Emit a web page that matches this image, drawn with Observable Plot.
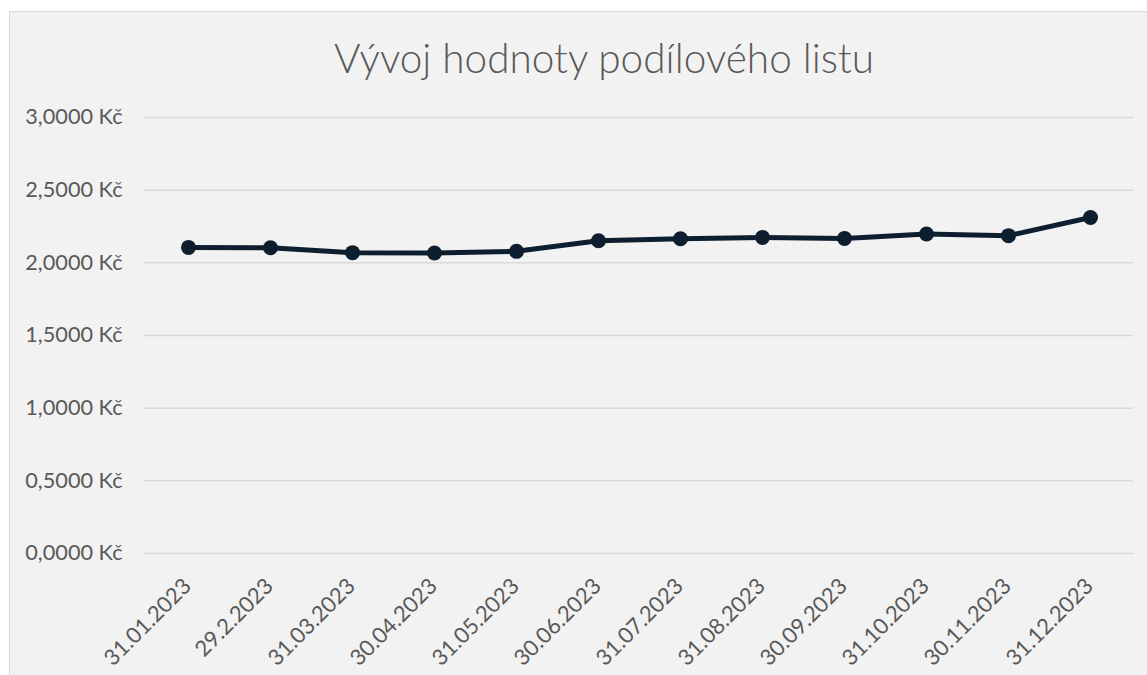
<!DOCTYPE html>
<html><head><meta charset="utf-8">
<script src="https://cdn.jsdelivr.net/npm/d3@7"></script>
<script src="https://cdn.jsdelivr.net/npm/@observablehq/plot@0.6"></script>
<style>
html,body{margin:0;padding:0;background:#fff;overflow:hidden;}
#wrap{position:relative;width:1147px;height:675px;overflow:hidden;}
#frame{position:absolute;left:9px;top:11px;width:1200px;height:700px;background:#f2f2f2;border:1.5px solid #d9d9d9;box-sizing:border-box;}
#title{position:absolute;left:9px;width:1190px;top:38px;text-align:center;font-family:Lato;font-weight:300;font-size:40.5px;line-height:40px;color:#595959;white-space:nowrap;}
#chart{position:absolute;left:0;top:0;}
</style></head>
<body><div id="wrap"><div id="frame"></div><div id="title">Vývoj hodnoty podílového listu</div><div id="chart"></div></div>
<script>
const dates = ["31.01.2023","29.2.2023","31.03.2023","30.04.2023","31.05.2023","30.06.2023","31.07.2023","31.08.2023","30.09.2023","31.10.2023","30.11.2023","31.12.2023"];
const values = [2.106, 2.104, 2.070, 2.068, 2.079, 2.152, 2.166, 2.175, 2.168, 2.198, 2.187, 2.312];
const yTicks = [0, 0.5, 1, 1.5, 2, 2.5, 3];
const data = dates.map((d, i) => ({date: d, value: values[i]}));
const fmt = v => v.toFixed(4).replace(".", ",") + " Kč";
const ink = "#0d1f2f";
const chart = Plot.plot({
  width: 1147, height: 675,
  marginLeft: 144, marginRight: 14, marginTop: 117, marginBottom: 122,
  style: {background: "transparent", fontFamily: "Lato", color: "#595959"},
  x: {type: "point", domain: dates, padding: 0.5, axis: null},
  y: {domain: [0, 3], axis: null},
  marks: [
    Plot.gridY(yTicks, {stroke: "#d9d9d9", strokeOpacity: 1, strokeWidth: 1.5}),
    Plot.axisY(yTicks, {tickSize: 0, tickPadding: 22, tickFormat: fmt, fontSize: 21.7, fill: "#595959", label: null}),
    Plot.text(dates, {x: d => d, frameAnchor: "bottom", rotate: -45, textAnchor: "end", lineAnchor: "middle", dx: -1, dy: 29, fontSize: 22, fill: "#595959"}),
    Plot.line(data, {x: "date", y: "value", stroke: ink, strokeWidth: 5}),
    Plot.dot(data, {x: "date", y: "value", r: 7.5, fill: ink, stroke: "none"})
  ]
});
document.getElementById("chart").appendChild(chart);
</script>
</body></html>
